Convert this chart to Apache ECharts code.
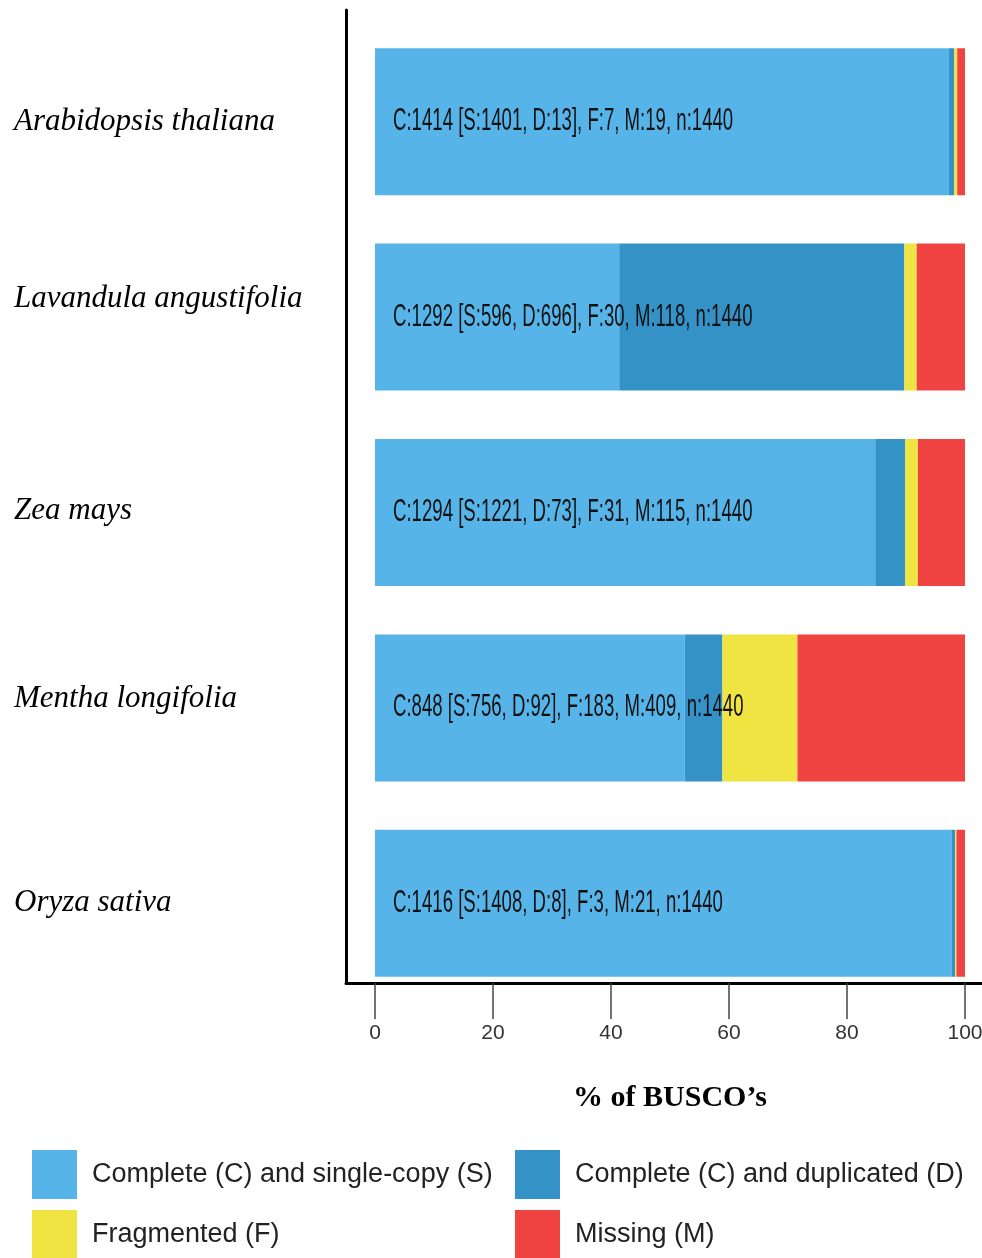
<!DOCTYPE html>
<html>
<head>
<meta charset="utf-8">
<script src="https://cdn.jsdelivr.net/npm/echarts@6/dist/echarts.min.js"></script>
<style>
  html, body { margin: 0; padding: 0; background: #fff; }
  #chart { width: 982px; height: 1258px; }
</style>
</head>
<body>
<div id="chart"></div>
<script>
// BUSCO completeness per species (counts of genes out of n)
const categories = ['Arabidopsis thaliana', 'Lavandula angustifolia', 'Zea mays', 'Mentha longifolia', 'Oryza sativa'];
const single     = [1401, 596, 1221, 756, 1408];
const duplicated = [13, 696, 73, 92, 8];
const fragmented = [7, 30, 31, 183, 3];
const missing    = [19, 118, 115, 409, 21];
const totals     = [1440, 1440, 1440, 1440, 1440];
const xTicks     = [0, 20, 40, 60, 80, 100];
const seriesNames = [
  'Complete (C) and single-copy (S)',
  'Complete (C) and duplicated (D)',
  'Fragmented (F)',
  'Missing (M)'
];

const palette = ['#56B4E9', '#3492C7', '#F0E442', '#F04442'];
// species names sit a little above some bars; extra bottom padding lifts them
const labelLift = [0, 36, 4, 18, 0];
// legend cells: 2 x 2 layout [left, top]
const legendSlots = [[32, 1150], [515, 1150], [32, 1210], [515, 1210]];
const sans = '"Liberation Sans", Arial, sans-serif';
const serif = '"Liberation Serif", "Times New Roman", serif';

const toPercent = arr => arr.map((v, i) => v / totals[i] * 100);
const summary = categories.map((_, i) =>
  `C:${single[i] + duplicated[i]} [S:${single[i]}, D:${duplicated[i]}], F:${fragmented[i]}, M:${missing[i]}, n:${totals[i]}`);

const speciesRich = {};
labelLift.forEach((lift, i) => {
  speciesRich['s' + i] = {
    fontFamily: serif, fontStyle: 'italic', fontSize: 31, color: '#000',
    padding: [0, 0, lift, 0]
  };
});

const chart = echarts.init(document.getElementById('chart'), null, { renderer: 'canvas' });

const barSeries = [single, duplicated, fragmented, missing].map((arr, k) => ({
  name: seriesNames[k],
  type: 'bar',
  stack: 'busco',
  xAxisIndex: 0,
  yAxisIndex: 0,
  barWidth: 147,
  data: toPercent(arr),
  itemStyle: { color: palette[k] },
  emphasis: { disabled: true }
}));

const legends = seriesNames.map((name, k) => ({
  left: legendSlots[k][0],
  top: legendSlots[k][1],
  padding: 0,
  itemWidth: 45,
  itemHeight: 49,
  icon: 'rect',
  selectedMode: false,
  data: [name],
  textStyle: { fontFamily: sans, fontSize: 27, color: '#222', padding: [0, 0, 0, 10] }
}));

const option = {
  animation: false,
  backgroundColor: '#fff',
  grid: [
    { left: 375, right: 17, top: 24, bottom: 257, containLabel: false, outerBoundsMode: 'none' },
    { left: 346, right: 0, top: 10, bottom: 275, containLabel: false, outerBoundsMode: 'none' }
  ],
  xAxis: [
    {
      gridIndex: 0, type: 'value',
      min: xTicks[0], max: xTicks[xTicks.length - 1], interval: xTicks[1] - xTicks[0],
      offset: -18,
      axisLine: { show: false },
      axisTick: { show: true, length: 36, lineStyle: { color: '#444', width: 1.5 } },
      splitLine: { show: false },
      axisLabel: { margin: 40, fontFamily: sans, fontSize: 21, color: '#333' },
      name: '% of BUSCO’s', nameLocation: 'middle', nameGap: 100,
      nameTextStyle: { fontFamily: serif, fontWeight: 'bold', fontSize: 30, color: '#000' }
    },
    {
      gridIndex: 1, type: 'value', min: 0, max: 1,
      axisLine: { show: true, lineStyle: { color: '#000', width: 3 } },
      axisTick: { show: false }, axisLabel: { show: false }, splitLine: { show: false }
    }
  ],
  yAxis: [
    {
      gridIndex: 0, type: 'category', inverse: true,
      data: categories,
      axisLine: { show: false }, axisTick: { show: false },
      axisLabel: {
        align: 'left', margin: 361,
        fontFamily: serif, fontStyle: 'italic', fontSize: 31, color: '#000',
        formatter: (value, index) => `{s${index}|${value}}`,
        rich: speciesRich
      }
    },
    {
      gridIndex: 1, type: 'value', min: 0, max: 1,
      axisLine: { show: true, lineStyle: { color: '#000', width: 3 } },
      axisTick: { show: false }, axisLabel: { show: false }, splitLine: { show: false }
    }
  ],
  legend: legends,
  series: barSeries.concat([{
    type: 'custom',
    xAxisIndex: 0,
    yAxisIndex: 0,
    silent: true,
    z: 10,
    data: categories.map((_, i) => [0, i]),
    encode: { x: 0, y: 1 },
    renderItem: (params, api) => {
      const p = api.coord([api.value(0), api.value(1)]);
      return {
        type: 'text',
        x: p[0] + 18,
        y: p[1],
        scaleX: 0.6,
        style: {
          text: summary[params.dataIndex],
          fill: '#111',
          font: '31px "Liberation Sans", Arial, sans-serif',
          align: 'left',
          verticalAlign: 'middle'
        }
      };
    }
  }])
};

chart.setOption(option);
</script>
</body>
</html>
